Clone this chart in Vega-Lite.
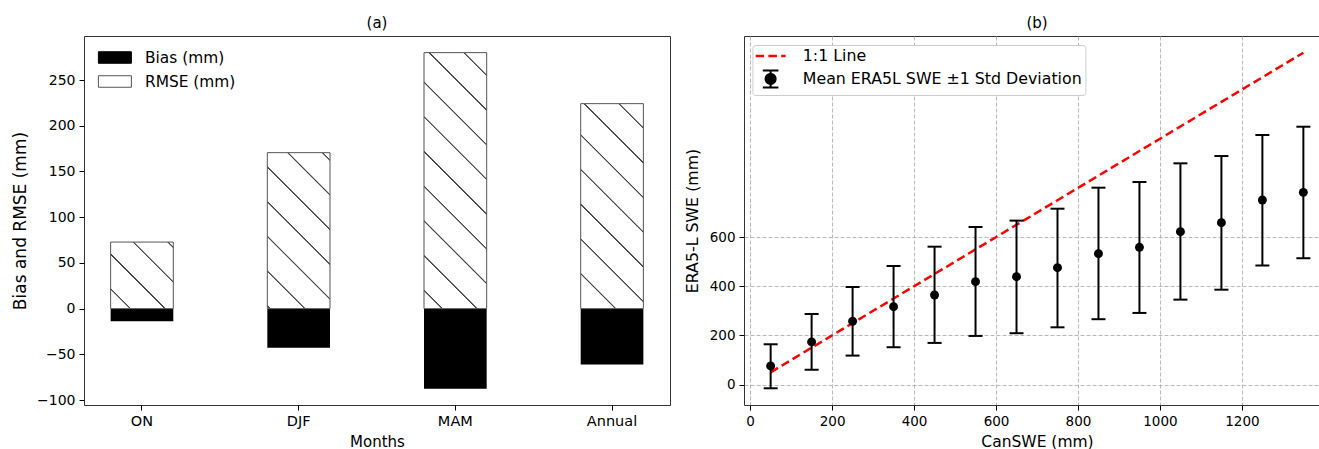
{
  "$schema": "https://vega.github.io/schema/vega-lite/v6.json",
  "autosize": {"type": "pad"},
  "padding": {"left": 11, "top": 15, "right": 0, "bottom": 0},
  "background": "white",
  "datasets": {
    "left": [
      {"month": "ON", "bias": -13.9, "rmse": 72.8},
      {"month": "DJF", "bias": -42.7, "rmse": 170.6},
      {"month": "MAM", "bias": -87.5, "rmse": 280},
      {"month": "Annual", "bias": -61.2, "rmse": 224.2}
    ],
    "right": [
      {"canswe": 50, "mean": 76, "lo": -15, "hi": 164},
      {"canswe": 150, "mean": 173.6, "lo": 60, "hi": 287},
      {"canswe": 250, "mean": 257.7, "lo": 118, "hi": 397},
      {"canswe": 350, "mean": 317, "lo": 152, "hi": 482.5},
      {"canswe": 450, "mean": 364.6, "lo": 169.5, "hi": 561},
      {"canswe": 550, "mean": 418.7, "lo": 198, "hi": 641},
      {"canswe": 650, "mean": 439, "lo": 209, "hi": 667},
      {"canswe": 750, "mean": 475.6, "lo": 233, "hi": 715.5},
      {"canswe": 850, "mean": 532.5, "lo": 266, "hi": 801},
      {"canswe": 950, "mean": 558.5, "lo": 291.5, "hi": 824},
      {"canswe": 1050, "mean": 622, "lo": 345.6, "hi": 900},
      {"canswe": 1150, "mean": 658.5, "lo": 386, "hi": 929.7},
      {"canswe": 1250, "mean": 750.8, "lo": 484, "hi": 1015},
      {"canswe": 1350, "mean": 782, "lo": 514, "hi": 1049}
    ]
  },
  "config": {
    "font": "DejaVu Sans",
    "view": {"stroke": "#333333", "strokeWidth": 1},
    "axis": {
      "domain": false, "tickColor": "black", "tickSize": 5, "tickWidth": 1,
      "labelColor": "black", "titleColor": "black", "titleFontWeight": "normal",
      "labelFont": "DejaVu Sans", "titleFont": "DejaVu Sans", "labelPadding": 4, "grid": false
    },
    "title": {"font": "DejaVu Sans", "fontSize": 15, "fontWeight": "normal", "color": "black", "frame": "group", "offset": 5}
  },
  "bounds": "flush",
  "spacing": 74,
  "resolve": {
    "scale": {"fill": "independent", "stroke": "independent", "color": "independent"},
    "legend": {"fill": "independent", "stroke": "independent"}
  },
  "hconcat": [
    {
      "width": 586, "height": 369,
      "title": {"text": "(a)"},
      "data": {"name": "left"},
      "encoding": {
        "x": {
          "field": "month", "type": "nominal", "sort": ["ON", "DJF", "MAM", "Annual"],
          "scale": {"paddingInner": 0.6, "paddingOuter": 0.17},
          "axis": {"title": "Months", "labelAngle": 0, "labelFontSize": 14.5, "titleFontSize": 15, "titlePadding": 7}
        }
      },
      "layer": [
        {
          "mark": {"type": "bar"},
          "encoding": {
            "y": {
              "field": "bias", "type": "quantitative",
              "scale": {"domain": [-105.4, 298.2], "nice": false, "zero": false},
              "axis": {"title": "Bias and RMSE (mm)", "values": [-100, -50, 0, 50, 100, 150, 200, 250], "labelFontSize": 14, "titleFontSize": 17, "titlePadding": 7}
            },
            "y2": {"datum": 0},
            "fill": {
              "datum": "Bias (mm)", "type": "nominal",
              "scale": {"domain": ["Bias (mm)", "RMSE (mm)"], "range": ["black", "white"]},
              "legend": {
                "orient": "none", "legendX": 18.4, "legendY": 9, "padding": 0, "title": null,
                "labelFontSize": 15.4, "labelFont": "DejaVu Sans", "labelColor": "black", "labelLimit": 0,
                "symbolSize": 576, "labelOffset": 17.6, "rowPadding": 3,
                "symbolType": "M-1.375,-0.48H1.375V0.48H-1.375Z",
                "symbolStrokeWidth": 1,
                "encode": {
                  "symbols": {
                    "update": {
                      "fill": {"signal": "datum.value === 'Bias (mm)' ? 'black' : {gradient: 'linear', x1: 0, y1: 1, x2: 1.2024, y2: 0.581, stops: [{offset: 0, color: 'white'}, {offset: 0.41, color: 'white'}, {offset: 0.435, color: '#444444'}, {offset: 0.475, color: '#444444'}, {offset: 0.5, color: 'white'}, {offset: 1, color: 'white'}]}"},
                      "stroke": {"signal": "datum.value === 'Bias (mm)' ? 'black' : '#555555'"}
                    }
                  }
                }
              }
            }
          }
        },
        {
          "transform": [{"filter": "datum.month === 'ON'"}],
          "mark": {"type": "bar", "stroke": "#555555", "strokeWidth": 1, "fill": {"gradient": "linear", "x1": 0, "y1": 1, "x2": 0.9693, "y2": -0.0289, "stops": [
            {"offset": 0, "color": "white"},
            {"offset": 0.1439, "color": "white"}, {"offset": 0.1493, "color": "#444444"}, {"offset": 0.1571, "color": "#444444"}, {"offset": 0.1625, "color": "white"},
            {"offset": 0.4123, "color": "white"}, {"offset": 0.4177, "color": "#444444"}, {"offset": 0.4255, "color": "#444444"}, {"offset": 0.4309, "color": "white"},
            {"offset": 0.6808, "color": "white"}, {"offset": 0.6862, "color": "#444444"}, {"offset": 0.694, "color": "#444444"}, {"offset": 0.6994, "color": "white"},
            {"offset": 0.9492, "color": "white"}, {"offset": 0.9546, "color": "#444444"}, {"offset": 0.9624, "color": "#444444"}, {"offset": 0.9678, "color": "white"},
            {"offset": 1, "color": "white"}]}},
          "encoding": {"y": {"field": "rmse", "type": "quantitative"}, "y2": {"datum": 0}}
        },
        {
          "transform": [{"filter": "datum.month === 'DJF'"}],
          "mark": {"type": "bar", "stroke": "#555555", "strokeWidth": 1, "fill": {"gradient": "linear", "x1": 0, "y1": 1, "x2": 0.4852, "y2": -0.2069, "stops": [
            {"offset": 0, "color": "white"},
            {"offset": 0.0078, "color": "white"}, {"offset": 0.011, "color": "#444444"}, {"offset": 0.0156, "color": "#444444"}, {"offset": 0.0188, "color": "white"},
            {"offset": 0.1665, "color": "white"}, {"offset": 0.1697, "color": "#444444"}, {"offset": 0.1742, "color": "#444444"}, {"offset": 0.1774, "color": "white"},
            {"offset": 0.3252, "color": "white"}, {"offset": 0.3284, "color": "#444444"}, {"offset": 0.3329, "color": "#444444"}, {"offset": 0.3361, "color": "white"},
            {"offset": 0.4838, "color": "white"}, {"offset": 0.487, "color": "#444444"}, {"offset": 0.4916, "color": "#444444"}, {"offset": 0.4948, "color": "white"},
            {"offset": 0.6425, "color": "white"}, {"offset": 0.6457, "color": "#444444"}, {"offset": 0.6503, "color": "#444444"}, {"offset": 0.6535, "color": "white"},
            {"offset": 0.8012, "color": "white"}, {"offset": 0.8044, "color": "#444444"}, {"offset": 0.809, "color": "#444444"}, {"offset": 0.8122, "color": "white"},
            {"offset": 0.9599, "color": "white"}, {"offset": 0.9631, "color": "#444444"}, {"offset": 0.9677, "color": "#444444"}, {"offset": 0.9709, "color": "white"},
            {"offset": 1, "color": "white"}]}},
          "encoding": {"y": {"field": "rmse", "type": "quantitative"}, "y2": {"datum": 0}}
        },
        {
          "transform": [{"filter": "datum.month === 'MAM'"}],
          "mark": {"type": "bar", "stroke": "#555555", "strokeWidth": 1, "fill": {"gradient": "linear", "x1": 0, "y1": 1, "x2": 0.2877, "y2": -0.1745, "stops": [
            {"offset": 0, "color": "white"},
            {"offset": 0.0537, "color": "white"}, {"offset": 0.0559, "color": "#444444"}, {"offset": 0.059, "color": "#444444"}, {"offset": 0.0612, "color": "white"},
            {"offset": 0.1625, "color": "white"}, {"offset": 0.1647, "color": "#444444"}, {"offset": 0.1679, "color": "#444444"}, {"offset": 0.1701, "color": "white"},
            {"offset": 0.2714, "color": "white"}, {"offset": 0.2736, "color": "#444444"}, {"offset": 0.2768, "color": "#444444"}, {"offset": 0.279, "color": "white"},
            {"offset": 0.3803, "color": "white"}, {"offset": 0.3825, "color": "#444444"}, {"offset": 0.3856, "color": "#444444"}, {"offset": 0.3878, "color": "white"},
            {"offset": 0.4892, "color": "white"}, {"offset": 0.4914, "color": "#444444"}, {"offset": 0.4945, "color": "#444444"}, {"offset": 0.4967, "color": "white"},
            {"offset": 0.5981, "color": "white"}, {"offset": 0.6003, "color": "#444444"}, {"offset": 0.6034, "color": "#444444"}, {"offset": 0.6056, "color": "white"},
            {"offset": 0.7069, "color": "white"}, {"offset": 0.7091, "color": "#444444"}, {"offset": 0.7123, "color": "#444444"}, {"offset": 0.7145, "color": "white"},
            {"offset": 0.8158, "color": "white"}, {"offset": 0.818, "color": "#444444"}, {"offset": 0.8211, "color": "#444444"}, {"offset": 0.8233, "color": "white"},
            {"offset": 0.9247, "color": "white"}, {"offset": 0.9269, "color": "#444444"}, {"offset": 0.93, "color": "#444444"}, {"offset": 0.9322, "color": "white"},
            {"offset": 1, "color": "white"}]}},
          "encoding": {"y": {"field": "rmse", "type": "quantitative"}, "y2": {"datum": 0}}
        },
        {
          "transform": [{"filter": "datum.month === 'Annual'"}],
          "mark": {"type": "bar", "stroke": "#555555", "strokeWidth": 1, "fill": {"gradient": "linear", "x1": 0, "y1": 1, "x2": 0.3653, "y2": -0.1942, "stops": [
            {"offset": 0, "color": "white"},
            {"offset": 0.1263, "color": "white"}, {"offset": 0.1289, "color": "#444444"}, {"offset": 0.1326, "color": "#444444"}, {"offset": 0.1352, "color": "white"},
            {"offset": 0.2559, "color": "white"}, {"offset": 0.2585, "color": "#444444"}, {"offset": 0.2623, "color": "#444444"}, {"offset": 0.2649, "color": "white"},
            {"offset": 0.3855, "color": "white"}, {"offset": 0.3882, "color": "#444444"}, {"offset": 0.3919, "color": "#444444"}, {"offset": 0.3945, "color": "white"},
            {"offset": 0.5152, "color": "white"}, {"offset": 0.5178, "color": "#444444"}, {"offset": 0.5215, "color": "#444444"}, {"offset": 0.5241, "color": "white"},
            {"offset": 0.6448, "color": "white"}, {"offset": 0.6474, "color": "#444444"}, {"offset": 0.6511, "color": "#444444"}, {"offset": 0.6538, "color": "white"},
            {"offset": 0.7744, "color": "white"}, {"offset": 0.7771, "color": "#444444"}, {"offset": 0.7808, "color": "#444444"}, {"offset": 0.7834, "color": "white"},
            {"offset": 0.9041, "color": "white"}, {"offset": 0.9067, "color": "#444444"}, {"offset": 0.9104, "color": "#444444"}, {"offset": 0.913, "color": "white"},
            {"offset": 1, "color": "white"}]}},
          "encoding": {"y": {"field": "rmse", "type": "quantitative"}, "y2": {"datum": 0}}
        },
        {
          "mark": {"type": "rule", "color": "black", "strokeWidth": 1, "strokeDash": [5, 2]},
          "encoding": {"y": {"datum": 0}}
        }
      ]
    },
    {
      "width": 586, "height": 369,
      "title": {"text": "(b)"},
      "data": {"name": "right"},
      "encoding": {
        "x": {
          "field": "canswe", "type": "quantitative",
          "scale": {"domain": [-15, 1415], "nice": false, "zero": false},
          "axis": {"title": "CanSWE (mm)", "values": [0, 200, 400, 600, 800, 1000, 1200], "format": "d", "labelFontSize": 13.5, "titleFontSize": 15.5, "titlePadding": 7,
                   "grid": true, "gridDash": [4, 2], "gridColor": "#b0b0b0", "gridWidth": 0.9}
        }
      },
      "layer": [
        {
          "mark": {"type": "line", "strokeWidth": 2.5, "strokeDash": [8.5, 4.3]},
          "encoding": {
            "y": {
              "field": "canswe", "type": "quantitative",
              "scale": {"domain": [-83, 1418], "nice": false, "zero": false},
              "axis": {"title": "ERA5-L SWE (mm)", "values": [0, 200, 400, 600], "format": "d", "labelFontSize": 13.5, "titleFontSize": 15.8, "titlePadding": 8.5,
                       "grid": true, "gridDash": [4, 2], "gridColor": "#b0b0b0", "gridWidth": 0.9}
            },
            "stroke": {
              "datum": "1:1 Line", "type": "nominal",
              "scale": {"domain": ["1:1 Line", "Mean ERA5L SWE ±1 Std Deviation"], "range": ["red", "black"]},
              "legend": {
                "orient": "none", "legendX": 8.4, "legendY": 9, "padding": 3,
                "fillColor": "white", "strokeColor": "#cccccc", "cornerRadius": 3, "title": null,
                "symbolSize": 529, "labelOffset": 31.6, "rowPadding": 2, "labelLimit": 0,
                "labelFontSize": 15.8, "labelFont": "DejaVu Sans", "labelColor": "black",
                "encode": {
                  "symbols": {
                    "update": {
                      "shape": {"signal": "datum.value === '1:1 Line' ? 'M-0.669,0H1.939' : 'M0.635,-0.739V0.739M-0.043,-0.739H1.313M-0.043,0.739H1.313M0.2,0A0.435,0.435 0 1,0 1.07,0A0.435,0.435 0 1,0 0.2,0'"},
                      "fill": {"signal": "datum.value === '1:1 Line' ? 'transparent' : 'black'"},
                      "stroke": {"signal": "datum.value === '1:1 Line' ? 'red' : 'black'"},
                      "strokeWidth": {"signal": "datum.value === '1:1 Line' ? 2.5 : 2"},
                      "strokeDash": {"signal": "datum.value === '1:1 Line' ? [8.5, 4.3] : [1, 0]"}
                    }
                  }
                }
              }
            }
          }
        },
        {
          "mark": {"type": "rule", "strokeWidth": 2},
          "encoding": {
            "y": {"field": "lo", "type": "quantitative"},
            "y2": {"field": "hi"},
            "stroke": {"datum": "Mean ERA5L SWE ±1 Std Deviation", "type": "nominal"}
          }
        },
        {
          "mark": {"type": "tick", "orient": "horizontal", "color": "black", "size": 14, "thickness": 2, "opacity": 1},
          "encoding": {"y": {"field": "lo", "type": "quantitative"}}
        },
        {
          "mark": {"type": "tick", "orient": "horizontal", "color": "black", "size": 14, "thickness": 2, "opacity": 1},
          "encoding": {"y": {"field": "hi", "type": "quantitative"}}
        },
        {
          "mark": {"type": "point", "filled": true, "color": "black", "size": 80, "opacity": 1},
          "encoding": {"y": {"field": "mean", "type": "quantitative"}}
        }
      ]
    }
  ]
}
